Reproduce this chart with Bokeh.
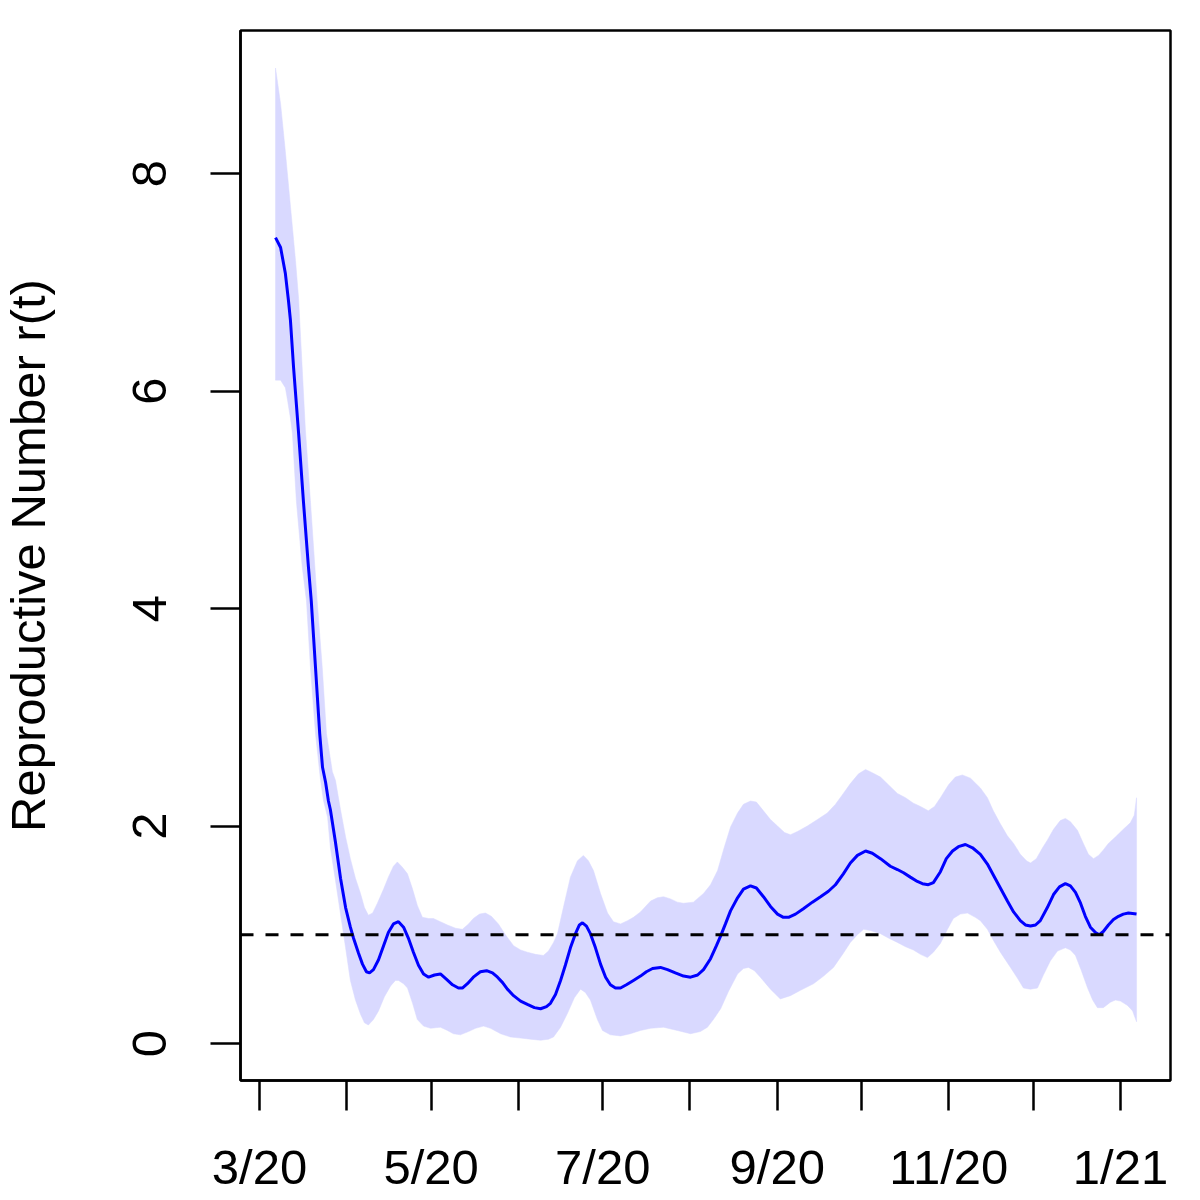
from bokeh.plotting import figure
from bokeh.models import Range1d, FixedTicker, Span
from bokeh.embed import file_html
from bokeh.resources import INLINE

# x values: days since 2020-03-01
line_day = [5.7, 7.5, 9.2, 10.3, 11.0, 12.1, 13.9, 15.6, 17.4, 18.4, 19.9, 21.4, 22.4, 23.5, 24.5,
            25.2, 27.0, 28.8, 30.6, 32.3, 33.4, 35.2, 36.6, 38.0, 39.1, 40.5, 42.3, 44.1, 45.8,
            47.6, 49.4, 51.2, 52.9, 54.7, 56.5, 58.3, 60.1, 62.2, 64.3, 66.5, 68.6, 70.7, 72.1,
            73.9, 76.0, 78.5, 80.7, 82.8, 84.6, 86.4, 88.1, 90.3, 92.8, 95.2, 97.7, 99.9, 102.0,
            103.4, 105.2, 107.0, 108.7, 110.5, 112.3, 113.7, 114.8, 116.2, 117.6, 119.4, 121.2,
            123.0, 124.7, 126.5, 128.3, 130.4, 132.9, 135.4, 137.5, 139.7, 142.5, 145.0, 147.8,
            150.7, 153.2, 155.7, 157.8, 160.3, 162.4, 163.9, 165.6, 167.4, 169.9, 172.0, 174.5,
            176.6, 179.1, 181.6, 184.1, 186.2, 188.0, 190.5, 193.3, 196.5, 199.4, 202.2, 204.7,
            207.5, 210.0, 212.5, 215.4, 217.8, 220.7, 224.2, 226.7, 228.9, 231.3, 233.8, 235.6,
            237.7, 239.5, 242.0, 244.1, 246.3, 248.4, 250.9, 253.4, 256.2, 258.7, 260.8, 263.3,
            265.8, 268.0, 270.4, 272.2, 274.0, 275.8, 277.5, 280.0, 282.2, 284.3, 286.4, 288.2,
            290.0, 291.8, 293.5, 295.3, 297.1, 298.5, 299.9, 301.7, 303.5, 305.3, 307.0, 308.8,
            311.7]
line_r = [7.41, 7.32, 7.08, 6.83, 6.65, 6.22, 5.61, 4.99, 4.38, 4.07, 3.46, 2.85, 2.54, 2.40, 2.23,
          2.15, 1.85, 1.52, 1.25, 1.07, 0.97, 0.83, 0.73, 0.66, 0.65, 0.68, 0.77, 0.90, 1.02,
          1.10, 1.12, 1.07, 0.97, 0.84, 0.72, 0.64, 0.61, 0.63, 0.64, 0.59, 0.54, 0.51, 0.51,
          0.55, 0.61, 0.66, 0.67, 0.65, 0.61, 0.56, 0.50, 0.44, 0.39, 0.36, 0.33, 0.32, 0.34,
          0.37, 0.45, 0.58, 0.72, 0.88, 1.01, 1.09, 1.11, 1.08, 1.01, 0.88, 0.73,
          0.61, 0.54, 0.51, 0.51, 0.54, 0.58, 0.62, 0.66, 0.69, 0.70, 0.68, 0.65,
          0.62, 0.61, 0.63, 0.68, 0.78, 0.90, 0.99, 1.10, 1.22, 1.34, 1.42, 1.45,
          1.43, 1.35, 1.26, 1.19, 1.16, 1.16, 1.19, 1.24, 1.30, 1.35, 1.40, 1.46,
          1.56, 1.66, 1.73, 1.77, 1.75, 1.70, 1.63, 1.60, 1.57, 1.53, 1.49, 1.47,
          1.46, 1.48, 1.58, 1.70, 1.77, 1.81, 1.83, 1.80, 1.74, 1.65, 1.55, 1.43,
          1.31, 1.21, 1.13, 1.09, 1.08, 1.09, 1.13, 1.25, 1.37, 1.44, 1.47, 1.45,
          1.39, 1.29, 1.17, 1.07, 1.02, 1.00, 1.03, 1.09, 1.14, 1.17, 1.19, 1.20,
          1.19]

upper_day = [5.7, 7.5, 9.2, 11.0, 12.8, 13.9, 14.6, 16.3, 18.1, 20.5, 22.3, 23.8, 25.9, 27.0, 28.8,
             30.6, 32.3, 34.1, 35.9, 37.3, 38.7, 40.2, 41.9, 44.1, 45.8, 47.6, 49.0, 50.8, 52.6,
             54.4, 56.1, 57.9, 60.1, 61.8, 64.3, 66.8, 69.7, 72.1, 74.3, 76.0, 78.2, 80.3, 82.4,
             84.9, 87.4, 90.3, 92.8, 95.2, 98.1, 100.9, 102.7, 104.5, 105.9, 108.0, 110.5, 113.0,
             115.1, 116.9, 118.7, 121.2, 123.7, 125.8, 128.3, 130.8, 132.9, 135.4, 139.0, 141.4,
             143.6, 146.1, 148.5, 150.7, 154.2, 157.8, 160.3, 162.8, 164.9, 167.4, 169.9, 172.0,
             174.5, 176.6, 179.1, 181.6, 184.1, 186.6, 188.7, 191.2, 194.7, 198.3, 201.8, 204.7,
             207.5, 210.0, 212.9, 215.4, 217.8, 220.7, 223.5, 226.7, 229.6, 232.4, 234.9, 237.7,
             239.9, 242.0, 244.9, 247.3, 249.8, 252.7, 256.2, 258.7, 260.8, 263.3, 265.8, 268.0,
             270.4, 272.6, 274.0, 276.1, 278.3, 280.0, 282.2, 284.6, 286.4, 288.2, 290.7, 292.8,
             294.6, 296.4, 298.2, 299.9, 301.7, 304.2, 307.0, 309.5, 310.9, 311.7]
upper_r = [8.97, 8.64, 8.20, 7.70, 7.20, 6.85, 6.50, 5.65, 4.99, 4.07, 3.46, 2.85, 2.50, 2.42, 2.15,
           1.90, 1.70, 1.52, 1.38, 1.25, 1.18, 1.20, 1.29, 1.42, 1.53, 1.63, 1.67, 1.62, 1.56,
           1.42, 1.27, 1.16, 1.15, 1.15, 1.12, 1.09, 1.06, 1.05, 1.10, 1.15, 1.19, 1.20, 1.17,
           1.10, 1.00, 0.90, 0.86, 0.84, 0.82, 0.81, 0.85, 0.93, 1.01, 1.25, 1.53, 1.68,
           1.73, 1.68, 1.59, 1.38, 1.20, 1.12, 1.10, 1.13, 1.16, 1.21, 1.31, 1.34,
           1.35, 1.33, 1.30, 1.29, 1.30, 1.38, 1.46, 1.59, 1.78, 1.99, 2.12, 2.20,
           2.23, 2.22, 2.14, 2.06, 2.00, 1.94, 1.92, 1.95, 2.00, 2.06, 2.12, 2.20,
           2.30, 2.39, 2.48, 2.52, 2.49, 2.45, 2.38, 2.30, 2.26, 2.21, 2.18, 2.14,
           2.18, 2.26, 2.38, 2.45, 2.47, 2.44, 2.35, 2.26, 2.14, 2.02, 1.91, 1.84,
           1.74, 1.68, 1.66, 1.70, 1.80, 1.87, 1.97, 2.05, 2.07, 2.04, 1.96, 1.84,
           1.74, 1.70, 1.73, 1.78, 1.84, 1.90, 1.97, 2.03, 2.10, 2.26]

lower_day = [5.7, 7.5, 9.2, 10.0, 11.0, 11.7, 13.1, 15.2, 16.7, 18.1, 19.9, 21.7, 22.7, 24.2, 25.2,
             27.0, 28.8, 30.6, 32.3, 34.1, 35.9, 37.3, 38.7, 40.5, 42.3, 44.4, 46.6, 48.3, 49.4,
             51.2, 52.6, 54.4, 56.1, 58.3, 60.8, 64.3, 66.8, 68.9, 71.4, 74.3, 76.8, 79.6, 82.1,
             85.7, 89.2, 92.8, 96.3, 99.9, 102.7, 104.5, 107.0, 109.5, 111.9, 114.1, 115.8, 117.6,
             120.1, 121.9, 124.7, 128.3, 131.8, 135.4, 139.0, 143.6, 148.5, 153.2, 156.7, 159.2,
             161.3, 163.9, 166.7, 169.9, 172.0, 173.8, 175.9, 178.0, 181.6, 185.1, 188.7, 192.3,
             196.9, 200.5, 204.0, 207.5, 210.0, 212.5, 214.7, 217.1, 220.7, 223.5, 226.7, 229.6,
             232.4, 234.9, 237.4, 239.5, 242.0, 244.5, 246.6, 249.1, 251.6, 254.4, 256.2, 258.7,
             260.8, 263.3, 266.9, 269.4, 271.5, 274.0, 276.5, 278.6, 281.1, 283.6, 286.4, 288.2,
             290.0, 292.1, 294.3, 296.1, 297.8, 299.9, 302.4, 304.2, 306.0, 308.5, 310.3, 311.7]
lower_r = [6.10, 6.10, 6.03, 5.91, 5.75, 5.61, 4.99, 4.38, 4.07, 3.46, 2.85, 2.42, 2.24, 2.08, 1.80,
           1.50, 1.19, 0.88, 0.58, 0.40, 0.27, 0.19, 0.17, 0.22, 0.30, 0.43, 0.53, 0.58, 0.58,
           0.55, 0.51, 0.37, 0.22, 0.16, 0.14, 0.15, 0.12, 0.09, 0.08, 0.11, 0.14, 0.16, 0.14,
           0.09, 0.06, 0.05, 0.04, 0.03, 0.04, 0.06, 0.15, 0.28, 0.42, 0.50, 0.47, 0.40,
           0.22, 0.12, 0.08, 0.07, 0.09, 0.12, 0.14, 0.15, 0.12, 0.09, 0.11, 0.15,
           0.22, 0.32, 0.48, 0.64, 0.69, 0.70, 0.67, 0.61, 0.50, 0.41, 0.44, 0.49,
           0.55, 0.62, 0.70, 0.83, 0.93, 1.00, 1.05, 1.04, 1.01, 0.97, 0.93, 0.89,
           0.86, 0.82, 0.79, 0.84, 0.92, 1.05, 1.15, 1.19, 1.20, 1.16, 1.13, 1.05,
           0.95, 0.84, 0.70, 0.60, 0.51, 0.50, 0.51, 0.63, 0.76, 0.85, 0.88, 0.86,
           0.81, 0.67, 0.51, 0.40, 0.33, 0.33, 0.38, 0.40, 0.39, 0.35, 0.30, 0.20]

month_ticks = [0, 31, 61, 92, 122, 153, 184, 214, 245, 275, 306]
month_labels = ["3/20", "", "5/20", "", "7/20", "", "9/20", "", "11/20", "", "1/21"]
r_ticks = [0, 2, 4, 6, 8]
threshold = 1.0

FONT = "Liberation Sans"
FS = "49px"

p = figure(frame_width=930, frame_height=1050,
           x_range=Range1d(-6.75, 323.77), y_range=Range1d(-0.340, 9.315),
           output_backend="svg", toolbar_location=None,
           min_border_left=244, min_border_top=34, min_border_right=22, min_border_bottom=100,
           margin=(-4, 0, 0, -4),
           background_fill_color="white", border_fill_color="white")
p.grid.visible = False
p.outline_line_color = "black"
p.outline_line_width = 2.5

band_x = upper_day + lower_day[::-1]
band_y = upper_r + lower_r[::-1]
p.patch(band_x, band_y, fill_color="#d9d9ff", line_color="#d9d9ff", line_width=0.5)
p.line(line_day, line_r, line_color="#0000ff", line_width=3)
p.add_layout(Span(location=threshold, dimension="width", line_color="black",
                  line_width=2.8, line_dash="13 12"))

for ax in (p.xaxis[0], p.yaxis[0]):
    ax.axis_line_color = "black"
    ax.axis_line_width = 2.5
    ax.major_tick_line_color = "black"
    ax.major_tick_line_width = 2.5
    ax.major_tick_out = 30
    ax.major_tick_in = 0
    ax.minor_tick_line_color = None
    ax.major_label_text_font = FONT
    ax.major_label_text_font_size = FS
    ax.major_label_text_color = "black"
    ax.axis_label_text_font = FONT
    ax.axis_label_text_font_size = FS
    ax.axis_label_text_font_style = "normal"
    ax.axis_label_text_color = "black"

p.xaxis.ticker = FixedTicker(ticks=month_ticks)
p.xaxis.major_label_overrides = {t: lab for t, lab in zip(month_ticks, month_labels)}
p.xaxis.major_label_standoff = 29

p.yaxis.ticker = FixedTicker(ticks=r_ticks)
p.yaxis.major_label_orientation = "vertical"
p.yaxis.major_label_standoff = 44
p.yaxis.axis_label = "Reproductive Number r(t)"
p.yaxis.axis_label_text_line_height = 1.0
p.yaxis.axis_label_standoff = 76

open("out.html", "w").write(file_html(p, INLINE))
